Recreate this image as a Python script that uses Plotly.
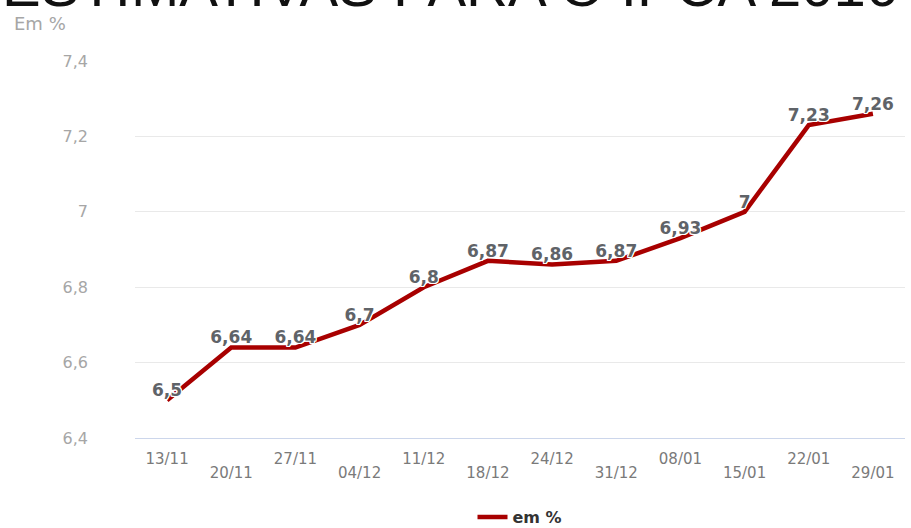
import plotly.graph_objects as go

# Weekly IPCA 2016 estimates (Focus survey), in %
datas = ["13/11", "20/11", "27/11", "04/12", "11/12", "18/12",
         "24/12", "31/12", "08/01", "15/01", "22/01", "29/01"]
estimativas = [6.5, 6.64, 6.64, 6.7, 6.8, 6.87, 6.86, 6.87, 6.93, 7.0, 7.23, 7.26]
y_ticks = [6.4, 6.6, 6.8, 7.0, 7.2, 7.4]

posicoes = list(range(len(datas)))
rotulos = [f"{v:g}".replace(".", ",") for v in estimativas]

halo = ("1px 1px 0 #fff, -1px -1px 0 #fff, 1px -1px 0 #fff, -1px 1px 0 #fff, "
        "0 1px 0 #fff, 0 -1px 0 #fff, 1px 0 0 #fff, -1px 0 0 #fff")
tick_font = dict(family="DejaVu Sans", size=15, color="#7a7a7a")
x_range = [-0.5, len(datas) - 0.5]

fig = go.Figure()
fig.add_trace(go.Scatter(
    x=posicoes,
    y=estimativas,
    mode="lines+text",
    name="em %",
    line=dict(color="#a80000", width=4.5),
    text=rotulos,
    textposition="top center",
    textfont=dict(family="DejaVu Sans", size=17, color="#5f6368",
                  weight="bold", shadow=halo),
    cliponaxis=False,
))
# invisible copy on the second x axis, which carries the lower row of dates
fig.add_trace(go.Scatter(
    x=posicoes, y=estimativas, xaxis="x2", mode="lines",
    line=dict(width=0), opacity=0, showlegend=False, hoverinfo="skip",
))

fig.update_layout(
    width=911, height=528,
    margin=dict(l=135, r=6, t=61, b=90, autoexpand=False),
    paper_bgcolor="white", plot_bgcolor="white",
    separators=",.",
    showlegend=True,
    legend=dict(orientation="h", x=0.5, xanchor="center", y=-0.21, yanchor="middle",
                font=dict(family="DejaVu Sans", size=16, color="#333333", weight="bold")),
    xaxis=dict(
        range=x_range,
        tickmode="array",
        tickvals=posicoes[0::2],
        ticktext=datas[0::2],
        tickfont=tick_font,
        showgrid=False, zeroline=False,
        showline=True, linecolor="#ccd6eb", linewidth=1,
        ticks="", ticklabelstandoff=7, automargin=False,
    ),
    xaxis2=dict(
        overlaying="x", side="bottom", anchor="y",
        range=x_range,
        tickmode="array",
        tickvals=posicoes[1::2],
        ticktext=datas[1::2],
        tickfont=tick_font,
        showgrid=False, zeroline=False, showline=False,
        ticks="", ticklabelstandoff=24, automargin=False,
    ),
    yaxis=dict(
        range=[6.4, 7.4],
        tickmode="array",
        tickvals=y_ticks,
        tickfont=dict(family="DejaVu Sans", size=16, color="#a6a6a6"),
        showgrid=True, gridcolor="#e9e9e9", gridwidth=1,
        zeroline=False, showline=False,
        ticks="", ticklabelstandoff=46, automargin=False,
    ),
    annotations=[
        dict(text="ESTIMATIVAS PARA O IPCA 2016", xref="paper", yref="paper",
             x=-0.175, xanchor="left", y=1.0 + 41 / 377, yanchor="bottom",
             showarrow=False,
             font=dict(family="Liberation Sans", size=58, color="#111111")),
        dict(text="Em %", xref="paper", yref="paper",
             x=-0.16, xanchor="left", y=1.0 + 37 / 377, yanchor="middle",
             showarrow=False,
             font=dict(family="DejaVu Sans", size=18, color="#a6a6a6")),
    ],
)

fig.write_html("out.html")
